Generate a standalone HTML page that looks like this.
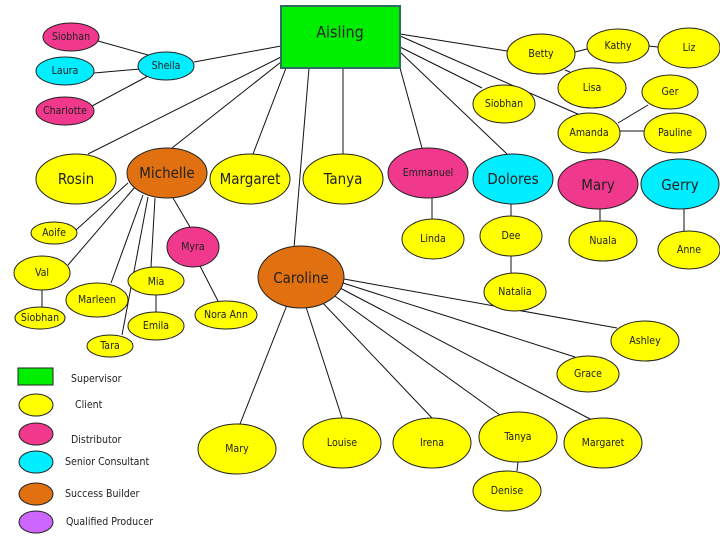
<!DOCTYPE html>
<html><head><meta charset="utf-8"><style>
html,body{margin:0;padding:0;background:#fff;}
svg{display:block;}
text{font-family:"DejaVu Sans Condensed","Liberation Sans",sans-serif;fill:#222;text-anchor:middle;dominant-baseline:central;}
.s{font-size:10.5px}.b{font-size:15px}
.l{text-anchor:start;font-size:10.5px}
ellipse{stroke:#222;stroke-width:1}
line{stroke:#111;stroke-width:1}
</style></head><body>
<svg width="720" height="540" viewBox="0 0 720 540" xmlns="http://www.w3.org/2000/svg">
<g>
<line x1="281" y1="46" x2="194" y2="62"/>
<line x1="166" y1="60" x2="98" y2="41"/>
<line x1="140" y1="69" x2="94" y2="73"/>
<line x1="148" y1="76" x2="92" y2="106"/>
<line x1="281" y1="57" x2="88" y2="154"/>
<line x1="281" y1="62" x2="172" y2="148"/>
<line x1="286" y1="68" x2="253" y2="154"/>
<line x1="309" y1="68" x2="294" y2="248"/>
<line x1="343" y1="68" x2="343" y2="154"/>
<line x1="400" y1="68" x2="422" y2="148"/>
<line x1="400" y1="52" x2="507" y2="154"/>
<line x1="400" y1="47" x2="482" y2="88"/>
<line x1="400" y1="34" x2="507" y2="51"/>
<line x1="400" y1="36" x2="580" y2="115"/>
<line x1="575" y1="52" x2="587" y2="49"/>
<line x1="648" y1="46" x2="658" y2="47"/>
<line x1="565" y1="70" x2="570" y2="72"/>
<line x1="618" y1="123" x2="648" y2="105"/>
<line x1="620" y1="131" x2="644" y2="131"/>
<line x1="432" y1="198" x2="432" y2="219"/>
<line x1="511" y1="204" x2="511" y2="216"/>
<line x1="511" y1="256" x2="511" y2="273"/>
<line x1="600" y1="209" x2="600" y2="222"/>
<line x1="684" y1="209" x2="684" y2="232"/>
<line x1="128" y1="183" x2="76" y2="230"/>
<line x1="135" y1="187" x2="68" y2="265"/>
<line x1="143" y1="195" x2="111" y2="283"/>
<line x1="148" y1="197" x2="122" y2="335"/>
<line x1="155" y1="198" x2="151" y2="267"/>
<line x1="173" y1="198" x2="190" y2="227"/>
<line x1="200" y1="266" x2="218" y2="301"/>
<line x1="42" y1="290" x2="42" y2="307"/>
<line x1="156" y1="295" x2="156" y2="312"/>
<line x1="287" y1="305" x2="240" y2="424"/>
<line x1="306" y1="307" x2="342" y2="418"/>
<line x1="320" y1="300" x2="432" y2="418"/>
<line x1="332" y1="294" x2="500" y2="415"/>
<line x1="340" y1="288" x2="592" y2="420"/>
<line x1="343" y1="283" x2="575" y2="357"/>
<line x1="344" y1="279" x2="617" y2="328"/>
<line x1="518" y1="462" x2="517" y2="471"/>
</g>
<rect x="281" y="6" width="119" height="62" fill="#00ee00" stroke="#2e6e5e" stroke-width="2"/>
<text x="340" y="32" style="font-size:16px">Aisling</text>

<ellipse cx="71" cy="37" rx="28" ry="14" fill="#f0388c"/><text class="s" x="71" y="37">Siobhan</text>
<ellipse cx="65" cy="71" rx="29" ry="14" fill="#00eeff"/><text class="s" x="65" y="71">Laura</text>
<ellipse cx="65" cy="111" rx="29" ry="14" fill="#f0388c"/><text class="s" x="65" y="111">Charlotte</text>
<ellipse cx="166" cy="66" rx="28" ry="14" fill="#00eeff"/><text class="s" x="166" y="66">Sheila</text>

<ellipse cx="76" cy="179" rx="40" ry="25" fill="#ffff00"/><text class="b" x="76" y="179">Rosin</text>
<ellipse cx="167" cy="173" rx="40" ry="25" fill="#e07010"/><text class="b" x="167" y="173">Michelle</text>
<ellipse cx="250" cy="179" rx="40" ry="25" fill="#ffff00"/><text class="b" x="250" y="179">Margaret</text>
<ellipse cx="343" cy="179" rx="40" ry="25" fill="#ffff00"/><text class="b" x="343" y="179">Tanya</text>
<ellipse cx="428" cy="173" rx="40" ry="25" fill="#f0388c"/><text class="s" x="428" y="173">Emmanuel</text>
<ellipse cx="513" cy="179" rx="40" ry="25" fill="#00eeff"/><text class="b" x="513" y="179">Dolores</text>
<ellipse cx="598" cy="184" rx="40" ry="25" fill="#f0388c"/><text class="b" x="598" y="185">Mary</text>
<ellipse cx="680" cy="184" rx="39" ry="25" fill="#00eeff"/><text class="b" x="680" y="185">Gerry</text>

<ellipse cx="541" cy="54" rx="34" ry="20" fill="#ffff00"/><text class="s" x="541" y="54">Betty</text>
<ellipse cx="618" cy="46" rx="31" ry="17" fill="#ffff00"/><text class="s" x="618" y="46">Kathy</text>
<ellipse cx="689" cy="48" rx="31" ry="20" fill="#ffff00"/><text class="s" x="689" y="48">Liz</text>
<ellipse cx="592" cy="88" rx="34" ry="20" fill="#ffff00"/><text class="s" x="592" y="88">Lisa</text>
<ellipse cx="670" cy="92" rx="28" ry="17" fill="#ffff00"/><text class="s" x="670" y="92">Ger</text>
<ellipse cx="504" cy="104" rx="31" ry="19" fill="#ffff00"/><text class="s" x="504" y="104">Siobhan</text>
<ellipse cx="589" cy="133" rx="31" ry="20" fill="#ffff00"/><text class="s" x="589" y="133">Amanda</text>
<ellipse cx="675" cy="133" rx="31" ry="20" fill="#ffff00"/><text class="s" x="675" y="133">Pauline</text>

<ellipse cx="433" cy="239" rx="31" ry="20" fill="#ffff00"/><text class="s" x="433" y="239">Linda</text>
<ellipse cx="511" cy="236" rx="31" ry="20" fill="#ffff00"/><text class="s" x="511" y="236">Dee</text>
<ellipse cx="603" cy="241" rx="34" ry="20" fill="#ffff00"/><text class="s" x="603" y="241">Nuala</text>
<ellipse cx="689" cy="250" rx="31" ry="19" fill="#ffff00"/><text class="s" x="689" y="250">Anne</text>
<ellipse cx="515" cy="292" rx="31" ry="19" fill="#ffff00"/><text class="s" x="515" y="292">Natalia</text>

<ellipse cx="54" cy="233" rx="23" ry="11" fill="#ffff00"/><text class="s" x="54" y="233">Aoife</text>
<ellipse cx="193" cy="247" rx="26" ry="20" fill="#f0388c"/><text class="s" x="193" y="247">Myra</text>
<ellipse cx="42" cy="273" rx="28" ry="17" fill="#ffff00"/><text class="s" x="42" y="273">Val</text>
<ellipse cx="97" cy="300" rx="31" ry="17" fill="#ffff00"/><text class="s" x="97" y="300">Marleen</text>
<ellipse cx="156" cy="281" rx="28" ry="14" fill="#ffff00"/><text class="s" x="156" y="282">Mia</text>
<ellipse cx="40" cy="318" rx="25" ry="11" fill="#ffff00"/><text class="s" x="40" y="318">Siobhan</text>
<ellipse cx="156" cy="326" rx="28" ry="14" fill="#ffff00"/><text class="s" x="156" y="326">Emila</text>
<ellipse cx="110" cy="346" rx="23" ry="11" fill="#ffff00"/><text class="s" x="110" y="346">Tara</text>
<ellipse cx="226" cy="315" rx="31" ry="14" fill="#ffff00"/><text class="s" x="226" y="315">Nora Ann</text>

<ellipse cx="301" cy="277" rx="43" ry="31" fill="#e07010"/><text class="b" x="301" y="278">Caroline</text>
<ellipse cx="645" cy="341" rx="34" ry="20" fill="#ffff00"/><text class="s" x="645" y="341">Ashley</text>
<ellipse cx="588" cy="374" rx="31" ry="18" fill="#ffff00"/><text class="s" x="588" y="374">Grace</text>
<ellipse cx="237" cy="449" rx="39" ry="25" fill="#ffff00"/><text class="s" x="237" y="449">Mary</text>
<ellipse cx="342" cy="443" rx="39" ry="25" fill="#ffff00"/><text class="s" x="342" y="443">Louise</text>
<ellipse cx="432" cy="443" rx="39" ry="25" fill="#ffff00"/><text class="s" x="432" y="443">Irena</text>
<ellipse cx="518" cy="437" rx="39" ry="25" fill="#ffff00"/><text class="s" x="518" y="437">Tanya</text>
<ellipse cx="603" cy="443" rx="39" ry="25" fill="#ffff00"/><text class="s" x="603" y="443">Margaret</text>
<ellipse cx="507" cy="491" rx="34" ry="20" fill="#ffff00"/><text class="s" x="507" y="491">Denise</text>

<rect x="18" y="368" width="35" height="17" fill="#00ee00" stroke="#222"/>
<ellipse cx="36" cy="405" rx="17" ry="11" fill="#ffff00"/>
<ellipse cx="36" cy="434" rx="17" ry="11" fill="#f0388c"/>
<ellipse cx="36" cy="462" rx="17" ry="11" fill="#00eeff"/>
<ellipse cx="36" cy="494" rx="17" ry="11" fill="#e07010"/>
<ellipse cx="36" cy="522" rx="17" ry="11" fill="#cc66ff"/>
<text class="l" x="71" y="379">Supervisor</text>
<text class="l" x="75" y="405">Client</text>
<text class="l" x="71" y="440">Distributor</text>
<text class="l" x="65" y="462">Senior Consultant</text>
<text class="l" x="65" y="494">Success Builder</text>
<text class="l" x="66" y="522">Qualified Producer</text>
</svg>
</body></html>
